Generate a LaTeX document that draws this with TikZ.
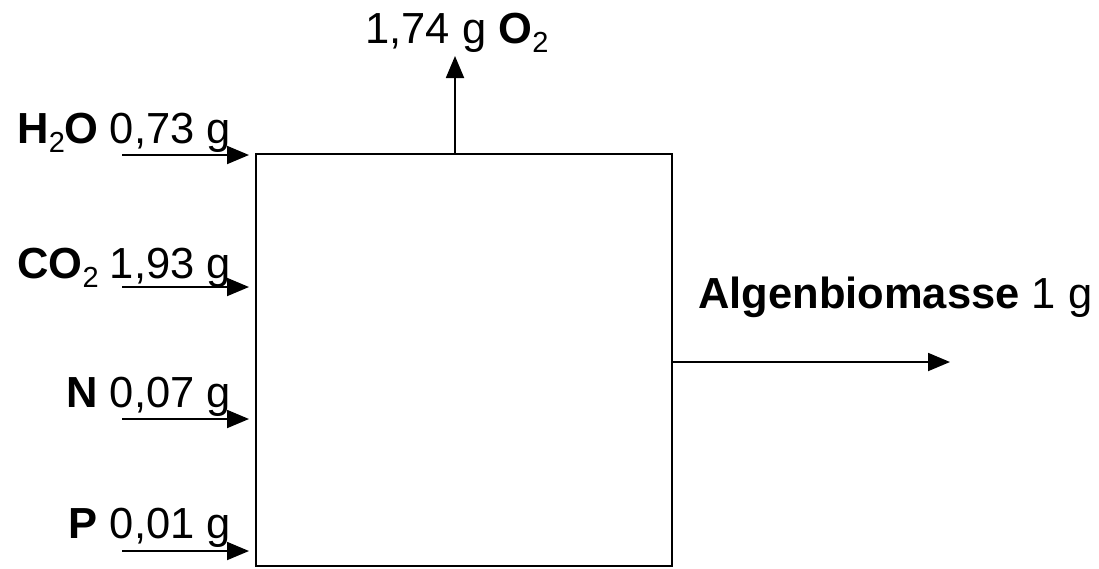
\documentclass[tikz,border=0pt]{standalone}
\usepackage{fontspec}
\setmainfont{Liberation Sans}
\usetikzlibrary{arrows.meta}
\newcommand{\subtwo}{\raisebox{-0.22em}{\fontsize{29}{30}\selectfont 2}}
\begin{document}
\begin{tikzpicture}[x=1pt,y=-1pt,
  lbl/.style={inner sep=0pt, font=\fontsize{43.5}{50}\selectfont},
  flow/.style={line width=1.9pt, -{Triangle[length=22pt,width=18pt]}}]
\useasboundingbox (0,0) rectangle (1099,568);
% box
\draw[line width=1.9pt] (256,154) rectangle (672,566);
% inflows
\coordinate (h1) at (122,155); \coordinate (h2) at (249,155);
\coordinate (c1) at (122,287); \coordinate (c2) at (249,287);
\coordinate (n1) at (122,419); \coordinate (n2) at (249,419);
\coordinate (p1) at (122,551); \coordinate (p2) at (249,551);
\draw[flow] (h1) -- (h2);
\draw[flow] (c1) -- (c2);
\draw[flow] (n1) -- (n2);
\draw[flow] (p1) -- (p2);
\node[lbl, anchor=base east] (th) at (231,143) {\textbf{H}\subtwo\textbf{O}\kern-1pt\ 0,73 g};
\node[lbl, anchor=base east] (tc) at (231,278) {\textbf{CO}\subtwo\kern-1pt\ 1,93 g};
\node[lbl, anchor=base east] (tn) at (231,407) {\textbf{N} 0,07 g};
\node[lbl, anchor=base east] (tp) at (231,538) {\textbf{P} 0,01 g};
% O2 outflow
\coordinate (o1) at (455,154); \coordinate (o2) at (455,56);
\draw[flow] (o1) -- (o2);
\node[lbl, anchor=base] (to) at (457,43) {1,74 g \textbf{O}\subtwo};
% biomass outflow
\coordinate (b1) at (672,362); \coordinate (b2) at (950,362);
\draw[flow] (b1) -- (b2);
\node[lbl, anchor=base west] (tb) at (698,308) {\textbf{Algenbiomasse} 1 g};
\end{tikzpicture}
\end{document}
